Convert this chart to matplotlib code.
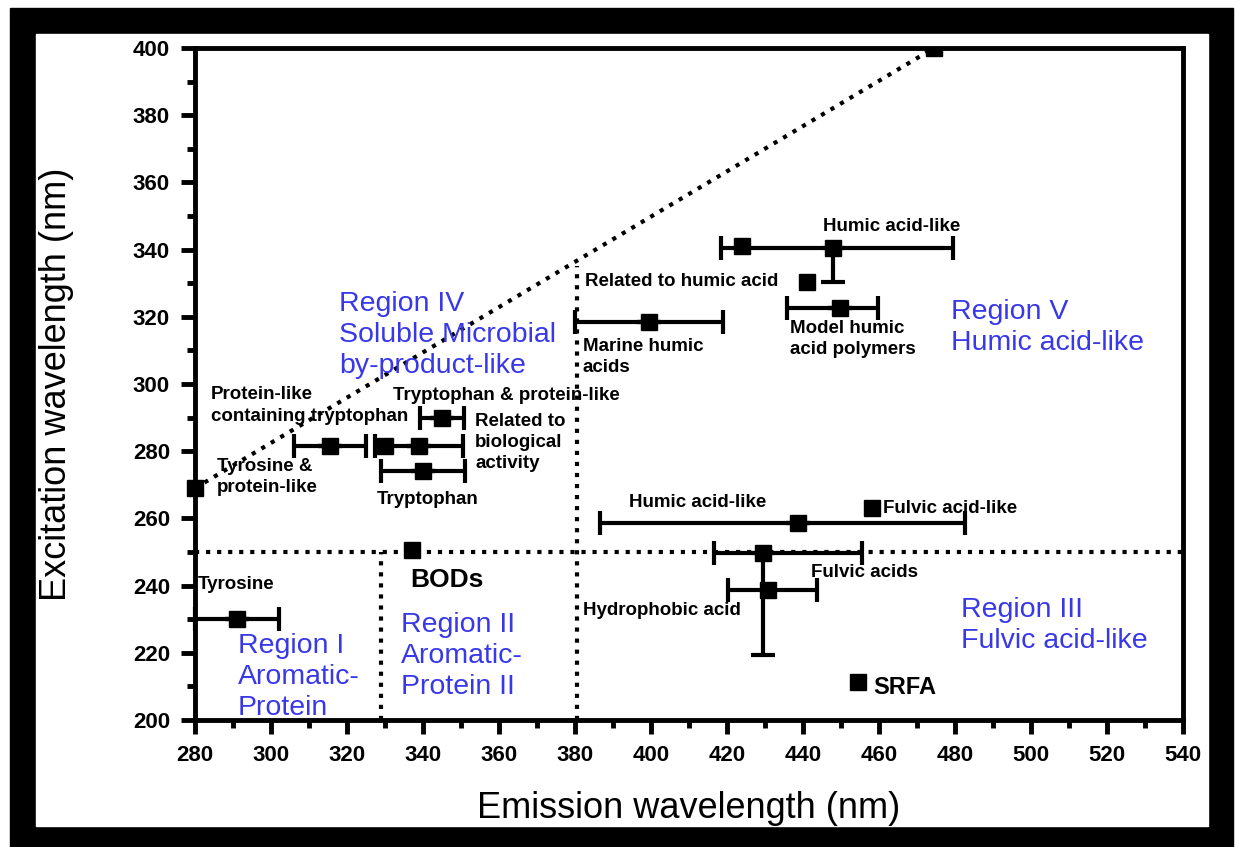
import numpy as np
import matplotlib
matplotlib.use('Agg')
import matplotlib.pyplot as plt
from matplotlib.patches import Rectangle
from matplotlib.ticker import MultipleLocator

plt.rcParams['font.family'] = ['Liberation Sans', 'DejaVu Sans']

# Points with error bars: emission, excitation, xerr (left, right), yerr (down, up)
em_pts = [291, 315.5, 339, 345, 340, 399.5, 448, 449.7, 438.7, 429.5]
ex_pts = [230, 281.5, 281.5, 290, 274, 318.5, 340.5, 322.6, 258.6, 249.7]
xerr_lo = [11, 9.5, 11.5, 5.75, 11, 19.5, 29.5, 14, 52, 13]
xerr_hi = [11, 9.5, 11.5, 5.75, 11, 19.5, 31.5, 10, 44, 26]
yerr_lo = [0, 0, 0, 0, 0, 0, 10, 0, 0, 30.5]
yerr_hi = [0, 0, 0, 0, 0, 0, 0, 0, 0, 0]

# hydrophobic acid
hyd_em, hyd_ex = 430.8, 238.7
hyd_xerr = [[10.5], [13]]

# Points without error bars
em_plain = [280, 330, 337, 424, 441, 458.2, 454.5]
ex_plain = [269, 281.5, 250.5, 341, 330.4, 263, 211.3]

# Point on the upper boundary (clipped)
em_top, ex_top = 474.5, 400

# Boundary lines
diag_em = [280, 474.5]
diag_ex = [269, 400]
h_line_ex = 250
v1_em, v1_top = 329, 250
v2_em, v2_top = 380.5, 335

labels = [
    ("Humic acid-like", 445.3, 347),
    ("Related to humic acid", 382.6, 330.4),
    ("Model humic\nacid polymers", 436.6, 313.4),
    ("Marine humic\nacids", 382, 308),
    ("Tryptophan & protein-like", 332, 296.7),
    ("Protein-like", 284.2, 297),
    ("containing tryptophan", 284.2, 290.4),
    ("Related to\nbiological\nactivity", 353.7, 282.6),
    ("Tyrosine &\nprotein-like", 285.8, 272.2),
    ("Tryptophan", 327.9, 265.5),
    ("Humic acid-like", 394.2, 264.6),
    ("Fulvic acid-like", 461, 263),
    ("Fulvic acids", 442, 244),
    ("Hydrophobic acid", 382, 232.7),
    ("Tyrosine", 280.8, 240.2),
]

regions = [
    ("Region IV\nSoluble Microbial\nby-product-like", 318, 324.4),
    ("Region V\nHumic acid-like", 479, 322),
    ("Region III\nFulvic acid-like", 481.6, 233.3),
    ("Region I\nAromatic-\nProtein", 291.3, 222.6),
    ("Region II\nAromatic-\nProtein II", 334.2, 228.6),
]

fig = plt.figure(figsize=(12.4, 8.47), dpi=100)
W, H = 1240, 847
fig.patches.append(Rectangle((10 / W, 0), (1233 - 10) / W, 1 - 8 / H,
                             transform=fig.transFigure, color='black', zorder=-3))
fig.patches.append(Rectangle((36 / W, 1 - 826 / H), (1208 - 36) / W, (826 - 34) / H,
                             transform=fig.transFigure, color='white', zorder=-2))

ax = fig.add_axes([195 / W, 1 - 720 / H, (1183 - 195) / W, (720 - 48) / H])
ax.set_facecolor('none')

dot_kw = dict(color='black', linestyle=':', linewidth=3)
ax.plot(diag_em, diag_ex, **dot_kw)
ax.axhline(h_line_ex, **dot_kw)
ax.plot([v1_em, v1_em], [200, v1_top], **dot_kw)
ax.plot([v2_em, v2_em], [200, v2_top], **dot_kw)

eb_kw = dict(fmt='s', color='black', markersize=11.5, elinewidth=3,
             capsize=8.5, capthick=3, ecolor='black')
ax.errorbar(em_pts, ex_pts, xerr=[xerr_lo, xerr_hi], yerr=[yerr_lo, yerr_hi],
            linestyle='none', clip_on=False, **eb_kw)
ax.errorbar([hyd_em], [hyd_ex], xerr=hyd_xerr, linestyle='none', **eb_kw)
ax.plot(em_plain, ex_plain, 's', color='black', markersize=11.5,
        linestyle='none', clip_on=False)
ax.plot([em_top], [ex_top], 's', color='black', markersize=11.5)

for txt, x, y in labels:
    ax.text(x, y, txt, fontsize=13.5, fontweight='bold', ha='left', va='center',
            linespacing=1.3)
ax.text(336.6, 241.7, "BODs", fontsize=19, fontweight='bold', ha='left', va='center')
ax.text(458.4, 209.8, "SRFA", fontsize=17, fontweight='bold', ha='left', va='center')

for txt, x, y in regions:
    ax.text(x, y + 3.4, txt, fontsize=20.5, color='#3838e8', ha='left', va='top',
            linespacing=1.25)

ax.set_xlim(280, 540)
ax.set_ylim(200, 400)
ax.xaxis.set_major_locator(MultipleLocator(20))
ax.xaxis.set_minor_locator(MultipleLocator(10))
ax.yaxis.set_major_locator(MultipleLocator(20))
ax.yaxis.set_minor_locator(MultipleLocator(10))
ax.tick_params(which='major', direction='out', length=10, width=3.5, labelsize=16, pad=8)
ax.tick_params(which='minor', direction='out', length=6, width=3.5)
for lab in ax.get_xticklabels() + ax.get_yticklabels():
    lab.set_fontweight('bold')
for sp in ax.spines.values():
    sp.set_linewidth(3.5)

ax.set_xlabel('Emission wavelength (nm)', fontsize=26)
ax.set_ylabel('Excitation wavelength (nm)', fontsize=26)
ax.xaxis.set_label_coords(0.5, -0.105)
ax.yaxis.set_label_coords(-0.122, 0.5)

fig.savefig('out.png', dpi=100)
